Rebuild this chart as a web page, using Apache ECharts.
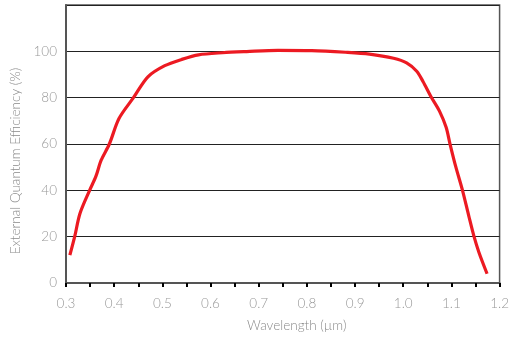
<!DOCTYPE html>
<html>
<head>
<meta charset="utf-8">
<script src="https://cdn.jsdelivr.net/npm/echarts@6/dist/echarts.min.js"></script>
<style>html,body{margin:0;padding:0;background:#fff}#c{width:512px;height:338px}</style>
</head>
<body>
<div id="c"></div>
<script>
const wavelengths = [0.308,0.318,0.329,0.349,0.362,0.373,0.39,0.41,0.44,0.47,0.505,0.54,0.575,0.625,0.675,0.74,0.81,0.88,0.93,0.98,1.007,1.028,1.041,1.058,1.075,1.089,1.097,1.109,1.123,1.136,1.147,1.157,1.174];
const eqe = [12,20,30,40,46,53,60,71,80,89,93.8,96.5,98.5,99.4,99.9,100.4,100.3,99.6,98.8,97,95,91.4,87,80.3,74.3,67.2,60.1,50.2,40,29,20,13.3,4];
const yTicks = [0,20,40,60,80,100];
const xTickLabels = ['0.3','0.4','0.5','0.6','0.7','0.8','0.9','1.0','1.1','1.2'];

const chart = echarts.init(document.getElementById('c'));
const font = 'Lato, "Open Sans", sans-serif';
chart.setOption({
  animation: false,
  grid: {left: 66, right: 4, top: 5, bottom: 53, show: true, borderColor: '#555', borderWidth: 1.5},
  xAxis: {
    type: 'value', min: 0.3, max: 1.2, interval: 0.05,
    name: 'Wavelength (µm)', nameLocation: 'middle', nameGap: 36,
    nameTextStyle: {color: '#8a8a8a', fontSize: 13.5, fontFamily: font, fontWeight: 300, padding: [0,0,0,28]},
    axisLine: {lineStyle: {color: '#555', width: 2}},
    axisTick: {show: true, length: 4, lineStyle: {color: '#000', width: 2}},
    axisLabel: {
      color: '#999', fontSize: 13.5, fontFamily: font, fontWeight: 300, margin: 14,
      formatter: function (v) {
        const k = Math.round(v * 100);
        if (k % 10 !== 0) return '';
        return xTickLabels[Math.round((v - 0.3) * 10)] || '';
      }
    },
    splitLine: {show: false}
  },
  yAxis: {
    type: 'value', min: 0, max: 120, interval: 20,
    name: 'External Quantum Efficiency (%)', nameLocation: 'middle', nameGap: 38,
    nameTextStyle: {color: '#8a8a8a', fontSize: 13.5, fontFamily: font, fontWeight: 300, padding: [0,34,0,0]},
    axisLine: {show: true, lineStyle: {color: '#555', width: 2}},
    axisTick: {show: false},
    axisLabel: {
      color: '#999', fontSize: 13.5, fontFamily: font, fontWeight: 300, margin: 9,
      formatter: function (v) { return yTicks.indexOf(v) >= 0 ? String(v) : ''; }
    },
    splitLine: {show: true, lineStyle: {color: '#222', width: 1}}
  },
  series: [{
    type: 'line', data: wavelengths.map((w, i) => [w, eqe[i]]),
    smooth: 0.3, showSymbol: false, symbol: 'none',
    lineStyle: {color: '#ec1a22', width: 3.2}
  }]
});
</script>
</body>
</html>
